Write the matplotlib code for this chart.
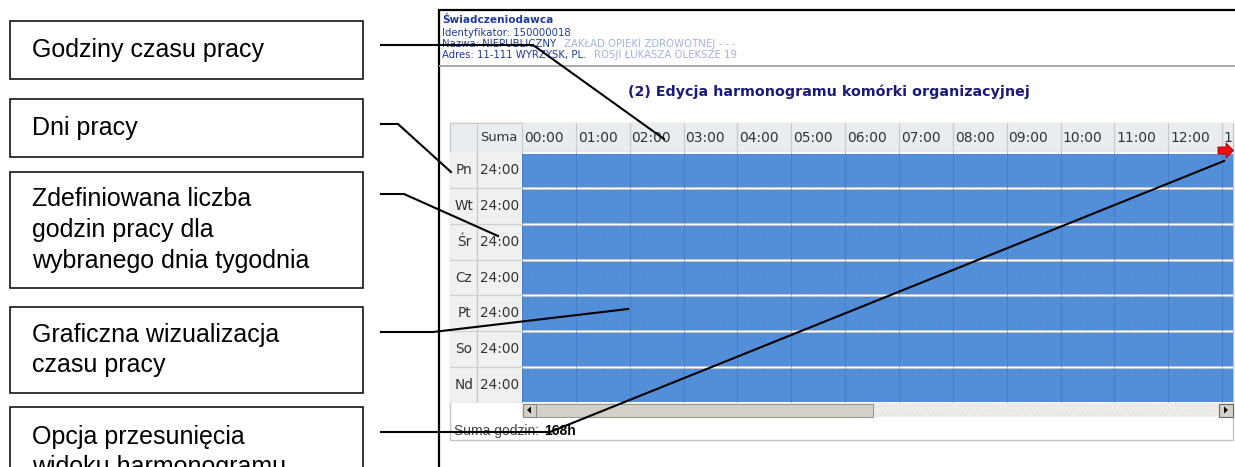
import matplotlib.pyplot as plt
from matplotlib.patches import Rectangle, Polygon

# --- data ---
days = ['Pn', 'Wt', 'Śr', 'Cz', 'Pt', 'So', 'Nd']
start_hours = [0, 0, 0, 0, 0, 0, 0]
work_hours = [24, 24, 24, 24, 24, 24, 24]
hour_labels = ['00:00', '01:00', '02:00', '03:00', '04:00', '05:00', '06:00',
               '07:00', '08:00', '09:00', '10:00', '11:00', '12:00', '13:00']
notes = ['Godziny czasu pracy',
         'Dni pracy',
         'Zdefiniowana liczba\ngodzin pracy dla\nwybranego dnia tygodnia',
         'Graficzna wizualizacja\nczasu pracy',
         'Opcja przesunięcia\nwidoku harmonogramu']
provider = ['Świadczeniodawca', 'Identyfikator: 150000018',
            'Nazwa: NIEPUBLICZNY', 'Adres: 11-111 WYRZYSK, PL.']
title = '(2) Edycja harmonogramu komórki organizacyjnej'

W, H = 1235, 467
fig = plt.figure(figsize=(W / 100, H / 100), dpi=100)
fig.patch.set_facecolor('white')


def px_axes(x0, y0, x1, y1, **kw):
    return fig.add_axes([x0 / W, 1 - y1 / H, (x1 - x0) / W, (y1 - y0) / H], **kw)


def clean(ax):
    ax.tick_params(left=False, bottom=False, labelleft=False, labelbottom=False)
    for s in ax.spines.values():
        s.set_visible(False)


ui = 'DejaVu Sans'
txt = '#333333'

# background layer in pixel coordinates
bg = px_axes(0, 0, W, H)
bg.set_xlim(0, W)
bg.set_ylim(H, 0)
bg.axis('off')

# screenshot frame
bg.plot([438.5, 438.5], [10, H], color='black', lw=1.6, solid_capstyle='butt')
bg.plot([438, W], [10, 10], color='black', lw=1.6, solid_capstyle='butt')
bg.plot([440, W], [66, 66], color='#a8a8a8', lw=1.4)

blue = '#1f3c9c'
faded = '#a3b2dc'
bg.text(442, 20, provider[0], fontsize=7.6, fontweight='bold', color=blue, family=ui, va='center')
bg.text(442, 32.5, provider[1], fontsize=7.3, color=blue, family=ui, va='center')
bg.text(442, 44, provider[2], fontsize=7.3, color=blue, family=ui, va='center')
bg.text(564, 44, 'ZAKŁAD OPIEKI ZDROWOTNEJ - - -', fontsize=7.3, color=faded, family=ui, va='center')
bg.text(442, 55, provider[3], fontsize=7.3, color=blue, family=ui, va='center')
bg.text(594, 55, 'ROSJI ŁUKASZA OLEKSZE 19', fontsize=7.3, color=faded, family=ui, va='center')

bg.text(829, 92, title, fontsize=10.3, fontweight='bold', color='#1a1a78', family=ui,
        ha='center', va='center')

# table frame and left header cell
bg.add_patch(Rectangle((450, 123), 783, 317, fill=False, ec='#c4c4c4', lw=1))
bg.add_patch(Rectangle((450, 123), 72, 29, fc='#e9edf0', ec='#c8ccd0', lw=0.8))
bg.plot([477, 477], [123, 152], color='#c8ccd0', lw=0.8)
bg.text(517, 137.5, 'Suma', fontsize=9.4, color=txt, family=ui, ha='right', va='center')

# header with hours
hx1 = 1233
px_per_hour = 53.85
x_max = (hx1 - 522) / px_per_hour
head = px_axes(522, 123, hx1, 152)
head.set_facecolor('#e9edf0')
head.set_xlim(0, x_max)
head.set_ylim(0, 1)
clean(head)
for i, lab in enumerate(hour_labels):
    head.axvline(i, color='#c8ccd0', lw=0.9)
    head.text(i + 0.035, 0.5, lab, fontsize=10, color=txt, family=ui, va='center',
              ha='left', clip_on=True)
head.axhline(0, color='#c8ccd0', lw=1)

# schedule bars
sched = px_axes(522, 152, hx1, 403)
sched.set_facecolor('white')
ypos = list(range(len(days)))
sched.barh(ypos, work_hours, left=start_hours, height=0.89, color='#538fd9',
           edgecolor='#4a82cc', lw=0.6, zorder=2)
sched.set_xlim(0, x_max)
sched.set_ylim(len(days) - 0.5, -0.5)
clean(sched)
for i in range(len(hour_labels)):
    sched.axvline(i, color='#3a6db5', lw=0.8, alpha=0.45, zorder=3)
    for q in (0.25, 0.5, 0.75):
        sched.axvline(i + q, color='#3a6db5', lw=0.5, alpha=0.18, ls=':', zorder=3)
for i in ypos[:-1]:
    sched.axhline(i + 0.5, color='#bcc4cc', lw=2.2, zorder=1)
    sched.axhline(i + 0.5, color='white', lw=0.8, zorder=1)

# left column: day names and daily sums
left = px_axes(450, 152, 522, 403)
left.set_facecolor('#f0f0f0')
left.set_xlim(0, 72)
left.set_ylim(len(days) - 0.5, -0.5)
clean(left)
left.axvline(27, color='#c8c8c8', lw=0.9)
for i, (d, h) in enumerate(zip(days, work_hours)):
    left.text(14, i, d, fontsize=9.8, color=txt, family=ui, ha='center', va='center')
    left.text(50, i, f'{h:02d}:00', fontsize=9.8, color=txt, family=ui, ha='center', va='center')
    left.axhline(i + 0.5, color='#cfcfcf', lw=0.9)

# scrollbar
bg.add_patch(Rectangle((522, 403), 711, 14, fc='#ebe9e4', ec='#f6f5f2', hatch='....', lw=0))
bg.add_patch(Rectangle((536, 403.5), 337, 13, fc='#d4d0c8', ec='#9a9a9a', lw=0.8))
bg.add_patch(Rectangle((522.5, 403.5), 13, 13, fc='#d4d0c8', ec='#8a8a8a', lw=0.8))
bg.add_patch(Polygon([(531, 406.5), (531, 413.5), (527, 410)], fc='black', ec='none'))
bg.add_patch(Rectangle((1219, 403.5), 13.5, 13, fc='#d4d0c8', ec='#6a6a6a', lw=0.8))
bg.add_patch(Polygon([(1224, 406.5), (1224, 413.5), (1228, 410)], fc='black', ec='none'))

# weekly total
bg.text(454, 431, 'Suma godzin: ', fontsize=10, color='#444444', family='Liberation Sans', va='center')
bg.text(544, 431, f'{sum(work_hours)}h', fontsize=10, color='black', fontweight='bold',
        family='Liberation Sans', va='center')

# annotation layer on top
ov = px_axes(0, 0, W, H, zorder=10)
ov.patch.set_alpha(0)
ov.set_xlim(0, W)
ov.set_ylim(H, 0)
ov.axis('off')

# red scroll arrow (above the table axes)
ov.add_patch(Polygon([(1218, 147), (1226, 147), (1226, 143), (1233.5, 150.5), (1226, 158),
                      (1226, 154), (1218, 154)], fc='#f01010', ec='#a00000', lw=0.6, zorder=1))

boxes = [(21, 58), (99, 58), (172, 116), (307, 86), (407, 100)]
text_y = [50, 128, 230, 350, 452]
for (top, hgt), note, ty in zip(boxes, notes, text_y):
    ov.add_patch(Rectangle((10, top), 353, hgt, fc='white', ec='black', lw=1.1))
    ov.text(32, ty, note, fontsize=18, family='Liberation Sans', color='black',
            va='center', ha='left', linespacing=1.36)

connectors = [
    [(381, 45), (533, 45), (664, 139)],
    [(381, 124), (398, 124), (451, 172)],
    [(381, 194), (404, 194), (498, 236)],
    [(381, 332), (433, 332), (628, 309)],
    [(381, 432), (550, 432), (1224, 161)],
]
for pts in connectors:
    ov.plot([p[0] for p in pts], [p[1] for p in pts], color='black', lw=1.5,
            solid_joinstyle='miter', zorder=3)

fig.savefig('out.png', dpi=100)
